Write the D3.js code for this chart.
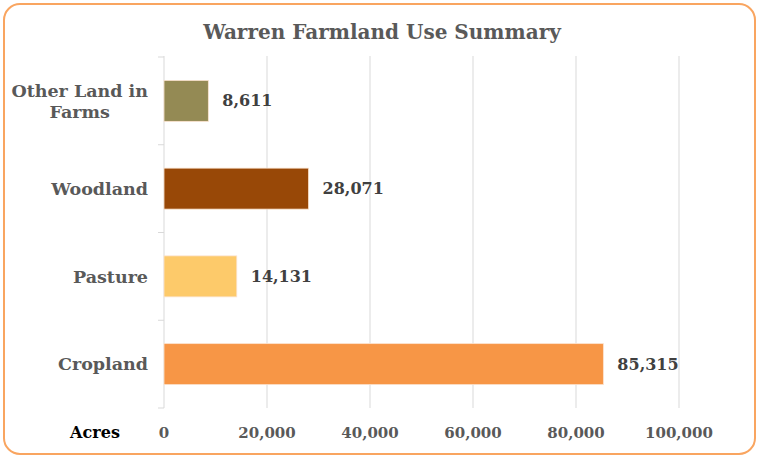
<!DOCTYPE html>
<html>
<head>
<meta charset="utf-8">
<script src="https://cdn.jsdelivr.net/npm/d3@7"></script>
<style>
  body { margin: 0; background: #fff; }
  text { font-family: "DejaVu Serif", Georgia, serif; font-weight: bold; }
</style>
</head>
<body>
<svg id="chart"></svg>
<script>
const categories = ["Other Land in Farms", "Woodland", "Pasture", "Cropland"];
const acres = [8611, 28071, 14131, 85315];
const barColors = ["#948a54", "#984807", "#fdca6a", "#f79646"];
const xTicks = [0, 20000, 40000, 60000, 80000, 100000];

const W = 759, H = 458;
const plotLeft = 164, plotRight = 679, plotTop = 57, plotBottom = 408;

const svg = d3.select("#chart").attr("width", W).attr("height", H);

// outer frame
svg.append("rect")
  .attr("x", 4).attr("y", 4).attr("width", W - 8).attr("height", H - 8)
  .attr("rx", 16).attr("fill", "#fff")
  .attr("stroke", "#f9a560").attr("stroke-width", 2);

const x = d3.scaleLinear().domain([0, 100000]).range([plotLeft, plotRight]);
const y = d3.scaleBand().domain(categories).range([plotTop, plotBottom]).paddingInner(0.533).paddingOuter(0.2665);

// gridlines
svg.append("g").selectAll("line")
  .data(xTicks.slice(1))
  .join("line")
  .attr("x1", d => x(d)).attr("x2", d => x(d))
  .attr("y1", plotTop - 1).attr("y2", plotBottom)
  .attr("stroke", "#d9d9d9").attr("stroke-width", 1);

// y axis line with category boundary ticks
const yAxis = svg.append("g");
yAxis.append("line")
  .attr("x1", x(0)).attr("x2", x(0)).attr("y1", plotTop - 1).attr("y2", plotBottom)
  .attr("stroke", "#d9d9d9");
const step = (plotBottom - plotTop) / categories.length;
yAxis.selectAll("line.tick")
  .data(d3.range(categories.length + 1))
  .join("line").attr("class", "tick")
  .attr("x1", x(0) - 6).attr("x2", x(0))
  .attr("y1", i => plotTop + i * step).attr("y2", i => plotTop + i * step)
  .attr("stroke", "#d9d9d9");

// bars
svg.append("g").selectAll("rect")
  .data(categories)
  .join("rect")
  .attr("x", x(0))
  .attr("y", d => y(d))
  .attr("width", (d, i) => x(acres[i]) - x(0))
  .attr("height", y.bandwidth())
  .attr("fill", (d, i) => barColors[i])
  .attr("stroke", "#fbe3cf").attr("stroke-width", 0.8);

// value labels
svg.append("g").selectAll("text")
  .data(categories)
  .join("text")
  .attr("x", (d, i) => x(acres[i]) + 14)
  .attr("y", d => y(d) + y.bandwidth() / 2)
  .attr("dy", "0.35em")
  .attr("font-size", 16)
  .attr("fill", "#404040")
  .text((d, i) => d3.format(",")(acres[i]));

// category labels: block right-aligned at labelRight, lines centred in block
const labelRight = 148;
const catLabels = { "Other Land in Farms": ["Other Land in", "Farms"] };
svg.append("g").selectAll("text")
  .data(categories)
  .join("text")
  .attr("y", d => y(d) + y.bandwidth() / 2)
  .attr("font-size", 17.5)
  .attr("fill", "#595959")
  .each(function(d) {
    const lines = catLabels[d] || [d];
    const t = d3.select(this);
    const spans = lines.map((ln, k) => t.append("tspan")
      .attr("dy", k === 0 ? (0.35 - (lines.length - 1) * 0.6) + "em" : "1.2em")
      .text(ln));
    const widest = d3.max(spans, s => s.node().getComputedTextLength());
    t.attr("text-anchor", "middle");
    spans.forEach(s => s.attr("x", labelRight - widest / 2));
  });

// x tick labels
svg.append("g").selectAll("text")
  .data(xTicks)
  .join("text")
  .attr("x", d => x(d))
  .attr("y", 438)
  .attr("text-anchor", "middle")
  .attr("font-size", 15)
  .attr("fill", "#595959")
  .text(d => d3.format(",")(d));

svg.append("text")
  .attr("x", 95).attr("y", 438)
  .attr("text-anchor", "middle")
  .attr("font-size", 16)
  .attr("fill", "#000")
  .text("Acres");

// title
svg.append("text")
  .attr("x", 382).attr("y", 39)
  .attr("text-anchor", "middle")
  .attr("font-size", 20)
  .attr("fill", "#595959")
  .text("Warren Farmland Use Summary");
</script>
</body>
</html>
